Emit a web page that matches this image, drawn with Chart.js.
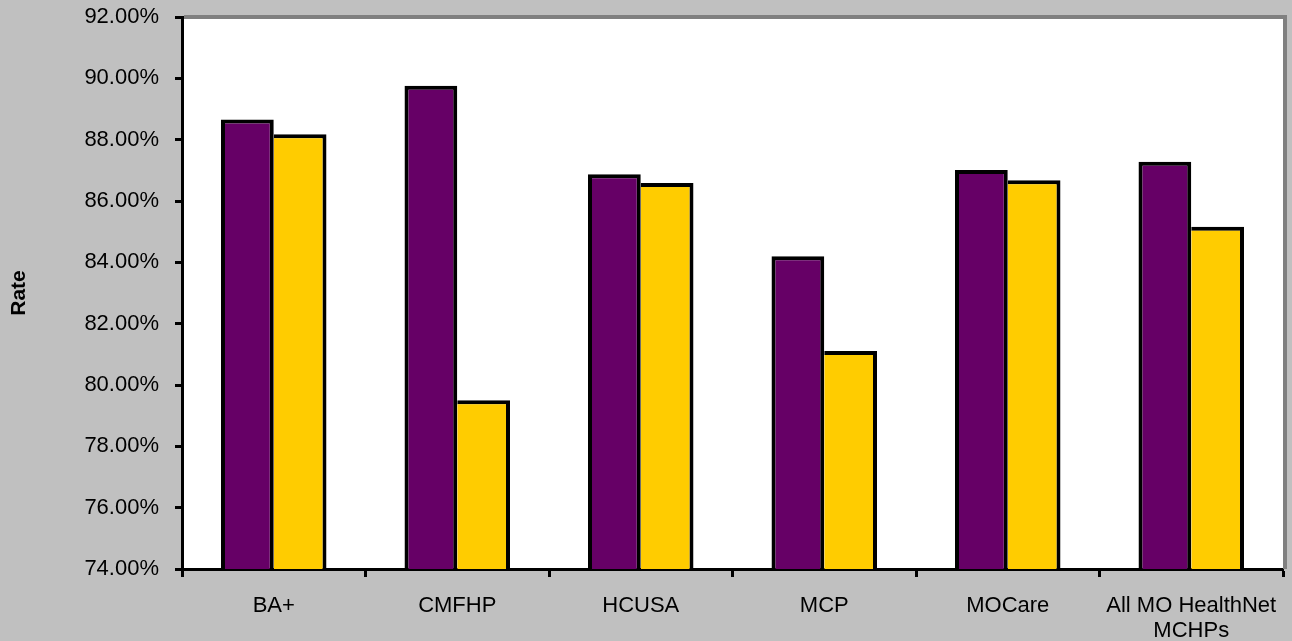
<!DOCTYPE html>
<html>
<head>
<meta charset="utf-8">
<script src="https://cdn.jsdelivr.net/npm/chart.js@4/dist/chart.umd.min.js"></script>
<style>
  html, body { margin: 0; padding: 0; background: #C0C0C0; }
  #wrap { width: 1292px; height: 641px; }
</style>
</head>
<body>
<div id="wrap"><canvas id="chart" width="1292" height="641"></canvas></div>
<script>
// Plans shown along the category axis
const categories = ['BA+', 'CMFHP', 'HCUSA', 'MCP', 'MOCare', ['All MO HealthNet', 'MCHPs']];

// Rates (percent) for the two series
const seriesPurple = [88.66, 89.76, 86.87, 84.20, 87.01, 87.28];
const seriesGold   = [88.18, 79.50, 86.59, 81.11, 86.68, 85.16];

// Value axis range
const yMin = 74;
const yMax = 92;
const yStep = 2;

const FONT = "'Liberation Sans', Arial, sans-serif";

// Grey page, white plot area, grey frame on the top and right of the plot
const framePlugin = {
  id: 'frame',
  beforeDraw(chart) {
    const { ctx, chartArea: a } = chart;
    ctx.save();
    ctx.fillStyle = '#C0C0C0';
    ctx.fillRect(0, 0, chart.width, chart.height);
    ctx.fillStyle = '#FFFFFF';
    ctx.fillRect(a.left, a.top, a.right - a.left, a.bottom - a.top);
    ctx.restore();
  },
  afterDraw(chart) {
    const { ctx, chartArea: a } = chart;
    ctx.save();
    ctx.fillStyle = '#808080';
    ctx.fillRect(a.left + 2, a.top - 2, a.right - a.left + 2, 4);
    ctx.fillRect(a.right, a.top - 2, 4, a.bottom - a.top + 2);
    ctx.restore();
  }
};

new Chart(document.getElementById('chart'), {
  type: 'bar',
  data: {
    labels: categories,
    datasets: [
      {
        label: 'Series 1',
        data: seriesPurple,
        backgroundColor: '#660066',
        borderColor: '#000000',
        borderWidth: { top: 4, left: 4, right: 4, bottom: 0 },
        borderSkipped: 'start'
      },
      {
        label: 'Series 2',
        data: seriesGold,
        backgroundColor: '#FFCC00',
        borderColor: '#000000',
        borderWidth: { top: 4, left: 0, right: 4, bottom: 0 },
        borderSkipped: 'start'
      }
    ]
  },
  options: {
    responsive: false,
    animation: false,
    devicePixelRatio: 1,
    layout: { padding: { top: 17, right: 9, left: 0, bottom: 0 } },
    plugins: {
      legend: { display: false },
      tooltip: { enabled: false }
    },
    datasets: {
      bar: { categoryPercentage: 0.575, barPercentage: 1.0 }
    },
    scales: {
      x: {
        z: 1,
        afterFit(scale) {
          scale.height = 72;
          scale.paddingLeft = 0;
          scale.paddingRight = 0;
        },
        grid: {
          display: true,
          offset: true,
          drawOnChartArea: false,
          drawTicks: true,
          tickLength: 8,
          tickWidth: 3,
          tickColor: '#000000'
        },
        border: { display: true, color: '#000000', width: 3 },
        ticks: {
          color: '#000000',
          font: { family: FONT, size: 22, lineHeight: 1.15 },
          padding: 16,
          maxRotation: 0,
          autoSkip: false
        }
      },
      y: {
        z: 1,
        min: yMin,
        max: yMax,
        afterFit(scale) {
          scale.width = 182;
          scale.paddingTop = 0;
          scale.paddingBottom = 0;
        },
        grid: {
          display: true,
          drawOnChartArea: false,
          drawTicks: true,
          tickLength: 7,
          tickWidth: 3,
          tickColor: '#000000'
        },
        border: { display: true, color: '#000000', width: 3 },
        ticks: {
          stepSize: yStep,
          color: '#000000',
          font: { family: FONT, size: 22 },
          padding: 16,
          callback: (v) => v.toFixed(2) + '%'
        },
        title: {
          display: true,
          text: 'Rate',
          color: '#000000',
          font: { family: FONT, size: 21, weight: 'bold' },
          padding: { top: 7, bottom: 0 }
        }
      }
    }
  },
  plugins: [framePlugin]
});
</script>
</body>
</html>
